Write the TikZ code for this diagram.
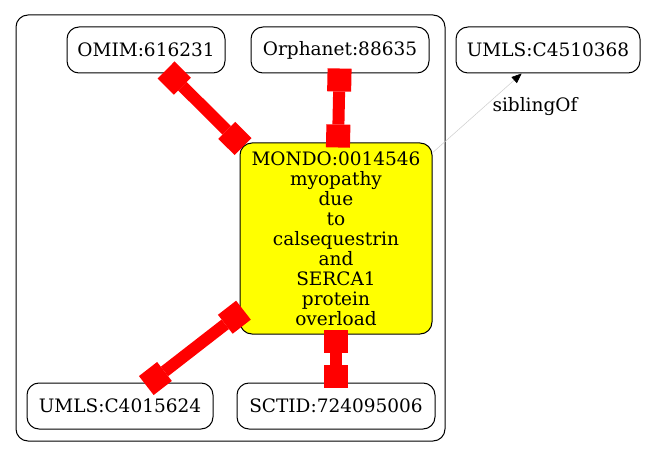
\documentclass[tikz,border=0pt]{standalone}
\usepackage{fontspec}
\setmainfont{DejaVu Serif}
\usetikzlibrary{arrows.meta}
\definecolor{ylw}{RGB}{255,255,0}
\definecolor{rd}{RGB}{255,0,0}
\begin{document}
\begin{tikzpicture}[x=1pt,y=-1pt,
  nbox/.style={draw=black, line width=1pt, rounded corners=12pt, inner sep=0pt, align=center, font=\fontsize{18.5}{20}\selectfont},
  redge/.style={draw=rd, line width=12pt, {Square[length=23pt,width=24pt,line width=0pt]}-{Square[length=23pt,width=24pt,line width=0pt]}, shorten <=-5pt, shorten >=-5pt},
  sedge/.style={draw=black!20, line width=0.5pt, -{Triangle[length=10pt,width=8pt,color=black]}},
  lbl/.style={font=\fontsize{18.5}{20}\selectfont, inner sep=0pt},
]
\useasboundingbox (0,0) rectangle (648,457);
\draw[line width=1pt, rounded corners=12pt] (16,15) rectangle (445,441);
\node[nbox, minimum width=158pt, minimum height=46pt] (omim) at (146,50) {OMIM:616231};
\node[nbox, minimum width=178pt, minimum height=46pt] (orpha) at (340,50) {Orphanet:88635};
\node[nbox, minimum width=184pt, minimum height=46pt] (umlsa) at (548,50) {UMLS:C4510368};
\node[nbox, fill=ylw, minimum width=192pt, minimum height=191pt] (mondo) at (336,238.5) {MONDO:0014546\\myopathy\\due\\to\\calsequestrin\\and\\SERCA1\\protein\\overload};
\node[nbox, minimum width=186pt, minimum height=46pt] (umlsb) at (120,406) {UMLS:C4015624};
\node[nbox, minimum width=198pt, minimum height=46pt] (sctid) at (336,406) {SCTID:724095006};
\draw[redge] (omim) -- (mondo);
\draw[redge] (orpha) -- (mondo);
\draw[redge] (umlsb) -- (mondo);
\draw[redge] (sctid) -- (mondo);
\draw[sedge] (mondo) -- (umlsa);
\node[lbl] (sib) at (535,107) {siblingOf};
\end{tikzpicture}
\end{document}
